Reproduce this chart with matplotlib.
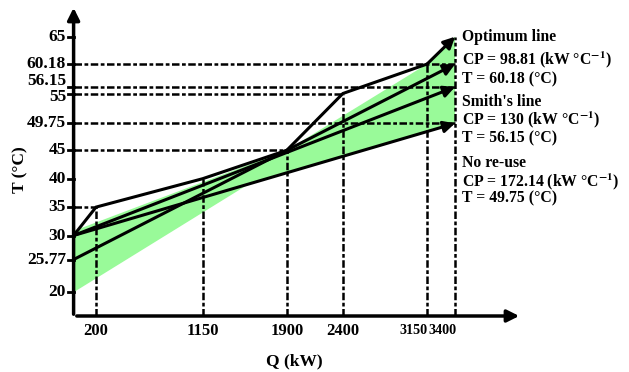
import matplotlib
matplotlib.use("Agg")
import matplotlib.pyplot as plt
import numpy as np

plt.rcParams["font.family"] = ["Liberation Serif", "DejaVu Serif"]
plt.rcParams["mathtext.fontset"] = "stix"

# ---- data ----
q_ticks = [200, 1150, 1900, 2400, 3150, 3400]
t_ticks = [65, 60.18, 56.15, 55, 49.75, 45, 40, 35, 30, 25.77, 20]

# limiting composite curve
comp_q = [0, 200, 1150, 1900, 2400, 3150, 3400]
comp_t = [30, 35, 40, 45, 55, 60.18, 65]

# water supply lines: (start Q, start T, end Q, end T)
lines = {
    "optimum": (0, 25.77, 3400, 60.18),
    "smith": (0, 30, 3400, 56.15),
    "noreuse": (0, 30, 3400, 49.75),
}

# green feasible band
band_q = [0, 0, 1900, 3150, 3400, 3400, 1565]
band_t = [20, 30.8, 45, 60.18, 65, 49.75, 39.1]

# dashed guide lines: horizontal (T, up to Q) and vertical (Q, up to T)
hguides = [(60.18, 3400), (56.15, 3400), (55, 2400), (49.75, 3400), (45, 1900), (35, 200)]
vguides = [(200, 35), (1150, 40), (1900, 45), (2400, 55), (3150, 60.18), (3400, 65)]

labels = [
    "Optimum line", r"CP = 98.81 (kW °C$^{\mathbf{-1}}$)", "T = 60.18 (°C)",
    "Smith's line", r"CP = 130 (kW °C$^{\mathbf{-1}}$)", "T = 56.15 (°C)",
    "No re-use", r"CP = 172.14 (kW °C$^{\mathbf{-1}}$)", "T = 49.75 (°C)",
]

# pixel <-> data mapping of the original picture
W, H = 629, 372
x0, sx = 73.6, 0.1122      # px of Q=0, px per kW
y20, sy = 292.3, 5.68      # px (from top) of T=20, px per degC


def Q(px):
    return (px - x0) / sx


def T(py):
    return 20 + (y20 - py) / sy


fig = plt.figure(figsize=(W / 100, H / 100), dpi=100)
ax = fig.add_axes([0, 0, 1, 1])
ax.set_xlim(Q(0), Q(W))
ax.set_ylim(T(H), T(0))
ax.axis("off")

ax.fill(band_q, band_t, color="#99fa99", lw=0, zorder=1)

dash = (0, (3.0, 1.0, 1.5, 1.0))
for t, qe in hguides:
    ax.plot([0, qe], [t, t], color="k", lw=1.8, ls=dash, zorder=2)
for q, te in vguides:
    ax.plot([q, q], [T(316), te], color="k", lw=1.8, ls=dash, zorder=2)

# axes with arrows
ax.annotate("", xy=(0, T(5)), xytext=(0, T(317)),
            arrowprops=dict(arrowstyle="-|>", color="k", lw=2.5, mutation_scale=18), zorder=5)
ax.annotate("", xy=(Q(522), T(316)), xytext=(Q(74), T(316)),
            arrowprops=dict(arrowstyle="-|>", color="k", lw=2.5, mutation_scale=18), zorder=5)

arrow = dict(arrowstyle="-|>", color="k", lw=2.2, mutation_scale=17, shrinkA=0, shrinkB=0)
ax.plot(comp_q[:-1], comp_t[:-1], color="k", lw=2.2, zorder=4, solid_joinstyle="miter")
ax.annotate("", xy=(comp_q[-1], comp_t[-1]), xytext=(comp_q[-2], comp_t[-2]),
            arrowprops=arrow, zorder=4)
for qs, ts, qe, te in lines.values():
    ax.annotate("", xy=(qe, te), xytext=(qs, ts), arrowprops=arrow, zorder=4)

# ticks and labels (small nudges where labels crowd, as in the original)
t_nudge = {56.15: -5.5, 55: 3}
for t in t_ticks:
    ax.plot([Q(67.5), 0], [t, t], color="k", lw=2.0, zorder=5)
    ax.annotate(f"{t:g}", xy=(Q(66), t), xytext=(0, -t_nudge.get(t, 0)),
                textcoords="offset pixels", ha="right", va="center",
                fontsize=12.5, fontweight="bold")
for q in q_ticks:
    if q in (3150, 3400):
        # the two crowded labels sit left of their lines, a little smaller
        ax.annotate(f"{q}", xy=(q, T(331)), xytext=(1, 0), textcoords="offset pixels",
                    ha="right", va="center", fontsize=10.2, fontweight="bold")
    else:
        ax.text(q, T(331), f"{q}", ha="center", va="center", fontsize=12, fontweight="bold")

ax.text(Q(294), T(361), "Q (kW)", ha="center", va="center", fontsize=12.5, fontweight="bold")
ax.text(Q(20), T(170), "T (°C)", ha="center", va="center", rotation=90,
        fontsize=12.5, fontweight="bold")

ys = [37, 60, 79, 101.5, 119.5, 138.5, 163, 181.5, 198.5]
for lab, py in zip(labels, ys):
    ax.text(Q(462), T(py), lab, ha="left", va="center", fontsize=11.3, fontweight="bold")

fig.savefig("out.png", dpi=100)
